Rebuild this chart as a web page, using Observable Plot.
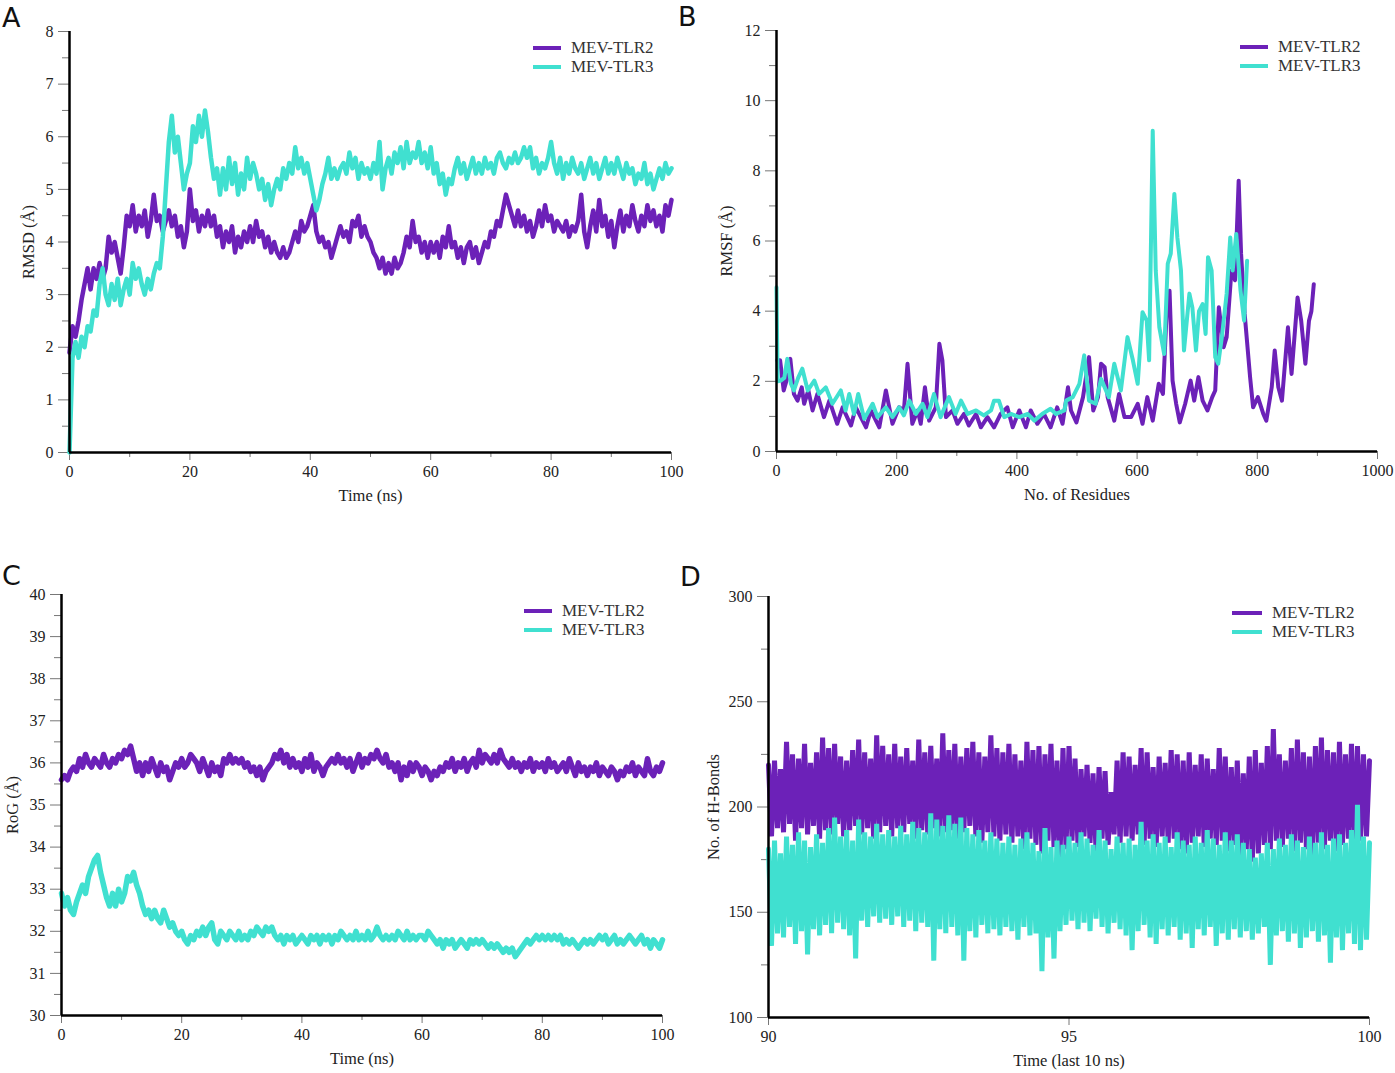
<!DOCTYPE html>
<html>
<head>
<meta charset="utf-8">
<script src="https://cdn.jsdelivr.net/npm/d3@7"></script>
<script src="https://cdn.jsdelivr.net/npm/@observablehq/plot@0.6"></script>
<style>
  html, body { margin: 0; padding: 0; background: #fff; }
  #page { position: relative; width: 1395px; height: 1073px; overflow: hidden; background: #fff; }
  .panel { position: absolute; }
  .panel svg text { font-family: "Liberation Serif", "Times New Roman", serif !important; }
  #letters { position: absolute; left: 0; top: 0; }
  .legend { position: absolute; font-family: "Liberation Serif", serif; font-size: 17px; color: #333; }
  .legend .row { display: flex; align-items: center; height: 19px; line-height: 19px; }
  .legend .sw { display: inline-block; height: 4px; margin-right: 10px; }
</style>
</head>
<body>
<div id="page"></div>
<script>
// ---------- series names & colours ----------
const seriesNames = ["MEV-TLR2", "MEV-TLR3"];
const seriesColors = ["#6c21b8", "#40e0d0"];

// ---------- A: RMSD (Å) vs Time (ns), sampled every 0.5 ns ----------
const rmsdTime = d3.range(201).map(i => i * 0.5);
const rmsdTLR2 = [
  1.9, 2.4, 2.2, 2.5, 2.9, 3.2, 3.5, 3.1, 3.5, 3.3,
  3.6, 3.3, 3.5, 4.1, 3.8, 4.0, 3.7, 3.4, 3.9, 4.5,
  4.3, 4.7, 4.2, 4.5, 4.3, 4.6, 4.1, 4.4, 4.9, 4.4,
  4.5, 4.2, 4.4, 4.6, 4.3, 4.5, 4.1, 4.3, 3.9, 4.2,
  5.0, 4.4, 4.6, 4.2, 4.5, 4.3, 4.6, 4.3, 4.5, 4.1,
  4.3, 3.9, 4.2, 4.0, 4.3, 3.8, 4.1, 3.9, 4.2, 4.0,
  4.3, 4.0, 4.4, 4.1, 4.2, 3.9, 4.1, 3.8, 4.0, 3.8,
  3.7, 3.9, 3.7, 3.8, 4.0, 4.2, 4.0, 4.4, 4.2, 4.3,
  4.5, 4.7, 4.2, 4.0, 4.1, 3.9, 4.0, 3.7, 3.9, 4.1,
  4.3, 4.1, 4.2, 4.0, 4.4, 4.3, 4.5, 4.1, 4.3, 4.1,
  4.0, 3.8, 3.7, 3.5, 3.7, 3.4, 3.6, 3.4, 3.7, 3.5,
  3.6, 3.8, 4.1, 3.9, 4.4, 4.0, 4.1, 3.8, 4.0, 3.7,
  4.0, 3.8, 4.0, 3.7, 4.1, 3.9, 4.3, 3.9, 4.0, 3.7,
  3.9, 3.6, 3.9, 4.0, 3.7, 3.9, 3.6, 3.8, 4.0, 3.9,
  4.2, 4.1, 4.4, 4.3, 4.6, 4.9, 4.7, 4.5, 4.3, 4.6,
  4.3, 4.5, 4.2, 4.4, 4.1, 4.3, 4.6, 4.3, 4.7, 4.4,
  4.5, 4.2, 4.4, 4.3, 4.2, 4.4, 4.1, 4.3, 4.2, 4.4,
  4.9, 4.2, 3.9, 4.3, 4.6, 4.2, 4.8, 4.3, 4.5, 4.1,
  4.4, 3.9, 4.3, 4.6, 4.2, 4.5, 4.3, 4.7, 4.4, 4.2,
  4.5, 4.3, 4.7, 4.4, 4.6, 4.3, 4.5, 4.2, 4.7, 4.5,
  4.8
];
const rmsdTLR3 = [
  0.0, 1.8, 2.1, 1.8, 2.2, 2.0, 2.4, 2.3, 2.7, 2.6,
  3.2, 3.5, 3.0, 2.8, 3.2, 2.9, 3.3, 2.8, 3.1, 3.3,
  3.0, 3.6, 3.3, 3.5, 3.2, 3.0, 3.3, 3.1, 3.4, 3.6,
  3.5, 4.1, 5.0, 5.9, 6.4, 5.7, 6.0, 5.5, 5.0, 5.3,
  5.5, 6.2, 5.9, 6.4, 6.0, 6.5, 6.1, 5.6, 5.2, 5.4,
  4.9, 5.4, 5.0, 5.6, 5.1, 5.5, 4.9, 5.3, 5.0, 5.6,
  5.2, 5.5, 5.3, 5.0, 5.2, 4.8, 5.1, 4.7, 5.0, 5.2,
  5.0, 5.4, 5.2, 5.5, 5.3, 5.8, 5.4, 5.6, 5.3, 5.5,
  5.2, 4.9, 4.6, 4.8, 5.1, 5.3, 5.6, 5.2, 5.4, 5.2,
  5.4, 5.5, 5.3, 5.7, 5.4, 5.6, 5.2, 5.5, 5.3, 5.4,
  5.2, 5.5, 5.3, 5.9, 5.0, 5.4, 5.6, 5.3, 5.7, 5.5,
  5.8, 5.4, 5.9, 5.5, 5.7, 5.6, 5.9, 5.5, 5.7, 5.4,
  5.8, 5.3, 5.5, 5.1, 5.3, 4.9, 5.2, 5.1, 5.4, 5.6,
  5.3, 5.5, 5.2, 5.4, 5.6, 5.3, 5.5, 5.3, 5.6, 5.4,
  5.5, 5.3, 5.6, 5.7, 5.5, 5.4, 5.6, 5.5, 5.7, 5.5,
  5.6, 5.8, 5.6, 5.8, 5.4, 5.6, 5.3, 5.5, 5.4, 5.6,
  5.9, 5.5, 5.3, 5.6, 5.2, 5.5, 5.3, 5.6, 5.4, 5.3,
  5.5, 5.2, 5.4, 5.6, 5.3, 5.5, 5.2, 5.4, 5.6, 5.3,
  5.5, 5.3, 5.6, 5.4, 5.2, 5.5, 5.3, 5.4, 5.1, 5.3,
  5.2, 5.5, 5.1, 5.3, 5.0, 5.2, 5.4, 5.2, 5.5, 5.3,
  5.4
];

// ---------- B: RMSF (Å) vs residue number ----------
const rmsfResTLR2 = [1, 6, 12, 18, 23, 29, 35, 42, 46, 53, 60, 68, 79, 88, 101, 110, 124, 132, 149, 157,
  171, 182, 193, 204, 212, 218, 226, 235, 240, 247, 254, 265, 271, 276, 282, 293, 301, 312, 320, 332,
  340, 351, 362, 373, 384, 393, 404, 415, 423, 434, 445, 456, 467, 476, 485, 490, 499, 510, 520, 527,
  535, 540, 546, 551, 562, 570, 579, 590, 601, 609, 617, 626, 636, 643, 649, 654, 659, 665, 671, 680,
  689, 695, 702, 709, 717, 725, 730, 736, 744, 749, 757, 763, 769, 773, 779, 788, 793, 801, 810, 815,
  824, 829, 835, 841, 851, 857, 867, 873, 880, 886, 890, 894];
const rmsfTLR2 = [2.6, 2.6, 1.74, 2.1, 2.64, 1.64, 1.45, 1.83, 1.36, 1.74, 1.17, 1.64, 0.98, 1.45, 0.79, 1.26, 0.74, 1.26, 0.69, 1.17,
  0.69, 1.74, 0.79, 1.26, 1.17, 2.5, 0.79, 1.17, 0.79, 1.83, 0.88, 1.26, 3.07, 2.6, 0.98, 1.17, 0.79, 1.07, 0.74, 1.07,
  0.69, 0.98, 0.69, 1.07, 1.26, 0.69, 1.17, 0.69, 1.17, 0.79, 1.07, 0.69, 1.26, 0.79, 1.83, 1.17, 0.83, 1.55, 2.69, 1.17,
  1.55, 2.5, 2.4, 1.55, 0.88, 1.64, 0.98, 0.98, 1.36, 0.79, 1.55, 0.88, 1.93, 1.64, 3.92, 4.58, 2.02, 1.36, 0.83, 1.36,
  2.02, 1.45, 2.12, 1.45, 1.17, 1.55, 1.74, 4.11, 2.97, 3.26, 5.16, 4.88, 7.72, 5.64, 3.92, 2.12, 1.26, 1.55, 1.07, 0.88,
  1.83, 2.88, 1.83, 1.45, 3.54, 2.21, 4.39, 3.73, 2.5, 3.73, 4.0, 4.77];
const rmsfResTLR3 = [0, 1, 2, 7, 13, 18, 24, 29, 36, 43, 52, 63, 71, 82, 93, 107, 115, 121, 129, 136,
  146, 160, 168, 182, 193, 204, 212, 221, 232, 243, 251, 262, 273, 287, 298, 307, 318, 332, 345, 357,
  362, 370, 379, 390, 404, 418, 429, 442, 456, 465, 479, 482, 493, 504, 512, 520, 531, 540, 553, 562,
  573, 584, 593, 601, 609, 616, 620, 626, 631, 637, 645, 651, 656, 662, 667, 673, 678, 687, 692, 698,
  703, 709, 714, 718, 724, 730, 735, 741, 749, 755, 759, 765, 772, 778, 783];
const rmsfTLR3 = [4.68, 3.2, 2.0, 2.02, 2.1, 2.64, 1.93, 1.74, 2.1, 2.36, 1.74, 2.02, 1.64, 1.83, 1.36, 1.74, 1.17, 1.64, 1.07, 1.64,
  0.93, 1.36, 0.98, 1.26, 0.98, 1.26, 1.03, 1.45, 1.07, 1.36, 0.98, 1.64, 0.98, 1.55, 1.07, 1.45, 1.07, 1.17, 1.03, 1.17,
  1.45, 1.45, 0.98, 1.07, 0.98, 1.07, 0.88, 1.07, 1.22, 1.07, 1.17, 1.45, 1.55, 1.93, 2.74, 1.45, 1.36, 2.07, 1.55, 2.5,
  1.74, 3.26, 2.6, 1.93, 3.97, 3.73, 2.6, 9.14, 5.16, 3.54, 2.78, 5.35, 5.64, 7.34, 6.1, 5.16, 2.88, 4.5, 4.1, 2.88,
  4.0, 4.2, 3.35, 5.54, 5.16, 2.69, 2.5, 3.26, 4.5, 6.1, 5.16, 6.2, 4.6, 3.73, 5.44];

// ---------- C: RoG (Å) vs Time (ns), sampled every 0.5 ns ----------
const rogTime = d3.range(201).map(i => i * 0.5);
const rogTLR2 = [
  35.6, 35.7, 35.6, 35.8, 35.9, 35.8, 36.1, 35.9, 36.2, 36.0,
  35.9, 36.1, 36.0, 35.9, 36.2, 36.0, 35.9, 36.1, 36.0, 36.2,
  36.1, 36.3, 36.2, 36.4, 36.1, 35.8, 36.0, 35.7, 36.0, 35.8,
  36.1, 35.9, 35.7, 36.0, 35.8, 35.9, 35.6, 35.8, 36.0, 35.9,
  36.1, 35.9, 36.0, 36.2, 36.1, 36.0, 35.8, 36.1, 35.9, 35.7,
  36.0, 35.8, 35.9, 35.7, 36.1, 36.0, 36.2, 36.0, 36.1, 36.0,
  36.1, 35.9, 36.0, 35.8, 35.9, 35.7, 35.9, 35.6, 35.8, 35.9,
  36.0, 36.2, 36.1, 36.3, 36.0, 36.2, 35.9, 36.1, 35.9, 36.0,
  35.8, 36.1, 35.9, 36.2, 35.8, 36.0, 35.9, 35.7, 35.9, 36.0,
  36.1, 36.0, 36.2, 36.0, 36.1, 35.9, 36.1, 35.8, 36.0, 36.2,
  35.9, 36.1, 36.0, 36.2, 36.1, 36.3, 36.1, 36.0, 36.2, 35.9,
  36.0, 35.8, 36.0, 35.6, 35.9, 35.7, 36.0, 35.8, 36.0, 35.9,
  35.7, 35.9, 35.8, 35.6, 35.8, 35.7, 35.9, 35.8, 36.0, 35.9,
  36.1, 35.8, 36.0, 35.9, 36.1, 35.8, 36.0, 36.1, 35.9, 36.3,
  36.0, 36.2, 36.1, 36.0, 36.2, 36.0, 36.3, 36.1, 36.0, 35.9,
  36.1, 35.9, 36.0, 35.8, 36.0, 35.9, 36.1, 35.8, 36.0, 35.9,
  36.0, 35.8, 36.1, 35.9, 36.0, 35.8, 35.9, 36.0, 35.8, 36.1,
  35.9, 35.7, 36.0, 35.8, 35.9, 35.7, 35.9, 35.8, 36.0, 35.7,
  35.9, 35.8, 35.7, 35.9, 35.8, 35.6, 35.8, 35.7, 35.9, 35.8,
  36.0, 35.7, 35.9, 35.8, 35.7, 36.1, 35.8, 35.7, 35.9, 35.8,
  36.0
];
const rogTLR3 = [
  32.9, 32.6, 32.8, 32.5, 32.4, 32.7, 32.9, 33.1, 32.9, 33.3,
  33.5, 33.7, 33.8, 33.4, 33.1, 32.8, 32.6, 32.9, 32.6, 33.0,
  32.7, 32.9, 33.3, 33.2, 33.4, 33.1, 32.9, 32.6, 32.4, 32.5,
  32.3, 32.5, 32.3, 32.2, 32.5, 32.3, 32.1, 32.2, 32.0, 31.9,
  32.0, 31.8, 31.7, 31.9, 31.8, 32.0, 31.9, 32.1, 31.9, 32.1,
  32.2, 31.8, 31.7, 32.0, 31.9, 31.8, 32.0, 31.9, 31.8, 32.0,
  31.8, 31.9, 31.8, 32.0, 31.9, 32.1, 32.0, 31.9, 32.1, 32.0,
  32.1, 31.9, 31.8, 31.9, 31.7, 31.9, 31.8, 31.9, 31.7, 31.8,
  31.9, 31.8, 31.7, 31.9, 31.8, 31.9, 31.7, 31.9, 31.8, 31.9,
  31.7, 31.9, 31.8, 32.0, 31.9, 31.8, 31.9, 31.8, 32.0, 31.8,
  31.9, 31.8, 32.0, 31.8, 31.9, 32.1, 31.9, 31.8, 31.9, 31.8,
  31.9, 31.8, 32.0, 31.9, 31.8, 32.0, 31.8, 31.9, 31.8, 31.9,
  31.9, 31.8, 32.0, 31.9, 31.8, 31.7, 31.8, 31.6, 31.8, 31.7,
  31.8, 31.6, 31.7, 31.8, 31.7, 31.6, 31.8, 31.7, 31.8, 31.7,
  31.8, 31.7, 31.6, 31.7, 31.6, 31.7, 31.6, 31.5, 31.6, 31.5,
  31.6, 31.4, 31.5, 31.6, 31.7, 31.8, 31.7, 31.8, 31.9, 31.8,
  31.9, 31.8, 31.9, 31.8, 31.9, 31.8, 31.9, 31.7, 31.8, 31.7,
  31.8, 31.7, 31.6, 31.7, 31.8, 31.7, 31.8, 31.7, 31.8, 31.9,
  31.8, 31.9, 31.7, 31.8, 31.9, 31.7, 31.8, 31.7, 31.8, 31.9,
  31.8, 31.7, 31.8, 31.9, 31.7, 31.8, 31.6, 31.8, 31.7, 31.6,
  31.8
];

// ---------- D: No. of H-bonds, last 10 ns ----------
// upper excursions sampled at 90.0, 90.1, ... 100.0 ns; lower excursions at 90.05, 90.15, ... 99.95 ns
const hbondHiTLR2 = [
  220, 222, 218, 231, 225, 223, 230, 221, 226, 233,
  228, 230, 224, 222, 227, 232, 226, 223, 234, 229,
  225, 230, 224, 228, 222, 232, 226, 229, 223, 235,
  227, 230, 224, 228, 231, 226, 224, 234, 228, 226,
  230, 225, 222, 231, 227, 229, 225, 230, 222, 228,
  229, 223, 218, 220, 216, 219, 217, 207, 222, 226,
  224, 220, 228, 226, 219, 224, 221, 227, 225, 222,
  226, 220, 225, 223, 218, 228, 224, 219, 222, 216,
  224, 227, 221, 229, 237, 225, 222, 228, 232, 226,
  224, 229, 233, 227, 226, 231, 225, 230, 229, 225,
  222
];
const hbondLoTLR2 = [
  186, 190, 188, 192, 184, 190, 187, 191, 185, 189,
  187, 192, 186, 189, 191, 187, 190, 185, 188, 191,
  186, 190, 188, 192, 185, 189, 187, 190, 186, 188,
  189, 185, 188, 191, 186, 183, 188, 186, 184, 187,
  183, 186, 180, 185, 182, 178, 184, 181, 176, 180,
  184, 181, 186, 183, 179, 185, 182, 187, 183, 186,
  184, 187, 182, 185, 181, 186, 183, 185, 180, 178,
  183, 186, 181, 185, 182, 184, 179, 182, 177, 180,
  174, 178, 182, 180, 184, 181, 185, 179, 183, 180,
  177, 183, 180, 184, 179, 182, 185, 181, 184, 186
];
const hbondHiTLR3 = [
  180, 184, 178, 186, 182, 188, 184, 181, 187, 183,
  190, 195, 186, 189, 184, 194, 188, 186, 192, 187,
  189, 186, 191, 187, 193, 190, 188, 197, 194, 191,
  196, 192, 195, 190, 187, 189, 184, 188, 185, 183,
  186, 182, 185, 188, 183, 179, 190, 181, 184, 182,
  186, 183, 188, 185, 182, 189, 184, 180, 186, 183,
  185, 182, 193, 184, 187, 183, 186, 181, 188, 184,
  182, 186, 183, 189, 185, 182, 188, 184, 187, 183,
  180, 176, 178, 183, 180, 185, 182, 187, 184, 181,
  186, 183, 188, 182, 185, 187, 183, 189, 201, 186,
  183
];
const hbondLoTLR3 = [
  134, 140, 138, 143, 135, 141, 130, 142, 139, 144,
  140, 145, 142, 139, 128, 146, 143, 148, 145, 147,
  144, 148, 143, 146, 141, 145, 143, 127, 142, 140,
  143, 139, 127, 141, 138, 144, 140, 142, 139, 143,
  141, 137, 143, 139, 140, 122, 138, 128, 141, 144,
  146, 142, 145, 141, 147, 143, 140, 145, 142, 139,
  132, 141, 144, 138, 135, 142, 139, 143, 137, 140,
  133, 142, 139, 143, 134, 140, 137, 142, 138, 141,
  137, 140, 143, 125, 139, 141, 136, 140, 133, 138,
  141, 136, 139, 126, 138, 132, 140, 135, 132, 137
];

// ---------- axis ticks ----------
const timeMajor = [0, 20, 40, 60, 80, 100];
const timeMinor = [10, 30, 50, 70, 90];
const rmsdMajor = [0, 1, 2, 3, 4, 5, 6, 7, 8];
const rmsdMinor = [0.5, 1.5, 2.5, 3.5, 4.5, 5.5, 6.5, 7.5];
const resMajor = [0, 200, 400, 600, 800, 1000];
const resMinor = [100, 300, 500, 700, 900];
const rmsfMajor = [0, 2, 4, 6, 8, 10, 12];
const rmsfMinor = [1, 3, 5, 7, 9, 11];
const rogMajor = [30, 31, 32, 33, 34, 35, 36, 37, 38, 39, 40];
const rogMinor = [30.5, 31.5, 32.5, 33.5, 34.5, 35.5, 36.5, 37.5, 38.5, 39.5];
const hbTimeMajor = [90, 95, 100];
const hbMajor = [100, 150, 200, 250, 300];
const hbMinor = [125, 175, 225, 275];
const panelLetters = ["A", "B", "C", "D"];

// ---------- build tables ----------
function table(xs, ys, name) { return ys.map((v, i) => ({x: xs[i], y: v, s: name})); }
function zigzag(hi, lo, name) {
  const out = [];
  hi.forEach((v, k) => {
    out.push({x: 90 + k * 0.1, y: v, s: name});
    if (k < lo.length) out.push({x: 90.05 + k * 0.1, y: lo[k], s: name});
  });
  return out;
}

const panels = [
  {left: 0, top: 0, width: 697, height: 520, mt: 31, mr: 26, mb: 68, ml: 69,
   xDomain: [0, 100], yDomain: [0, 8], xMajor: timeMajor, xMinor: timeMinor, yMajor: rmsdMajor, yMinor: rmsdMinor,
   xTitle: "Time (ns)", yTitle: "RMSD (Å)", yTitleDx: -41, sw: 4.5, join: "round",
   data: [table(rmsdTime, rmsdTLR2, seriesNames[0]), table(rmsdTime, rmsdTLR3, seriesNames[1])],
   legend: {left: 533, top: 38, w: 28}, letterPos: [2, 27]},
  {left: 700, top: 0, width: 695, height: 520, mt: 30, mr: 18, mb: 69, ml: 76,
   xDomain: [0, 1000], yDomain: [0, 12], xMajor: resMajor, xMinor: resMinor, yMajor: rmsfMajor, yMinor: rmsfMinor,
   xTitle: "No. of Residues", yTitle: "RMSF (Å)", yTitleDx: -50, sw: 4, join: "round",
   data: [table(rmsfResTLR2, rmsfTLR2, seriesNames[0]), table(rmsfResTLR3, rmsfTLR3, seriesNames[1])],
   legend: {left: 1240, top: 37, w: 28}, letterPos: [678, 26]},
  {left: 0, top: 540, width: 697, height: 533, mt: 54, mr: 35, mb: 58, ml: 61,
   xDomain: [0, 100], yDomain: [30, 40], xMajor: timeMajor, xMinor: timeMinor, yMajor: rogMajor, yMinor: rogMinor,
   xTitle: "Time (ns)", yTitle: "RoG (Å)", yTitleDx: -49, sw: 5.5, join: "round",
   data: [table(rogTime, rogTLR2, seriesNames[0]), table(rogTime, rogTLR3, seriesNames[1])],
   legend: {left: 524, top: 601, w: 28}, letterPos: [2, 585]},
  {left: 700, top: 540, width: 695, height: 533, mt: 56, mr: 26, mb: 56, ml: 68,
   xDomain: [90, 100], yDomain: [100, 300], xMajor: hbTimeMajor, xMinor: [], yMajor: hbMajor, yMinor: hbMinor,
   xTitle: "Time (last 10 ns)", yTitle: "No. of H-Bonds", yTitleDx: -55, sw: 5, join: "bevel",
   data: [zigzag(hbondHiTLR2, hbondLoTLR2, seriesNames[0]), zigzag(hbondHiTLR3, hbondLoTLR3, seriesNames[1])],
   legend: {left: 1232, top: 603, w: 30}, letterPos: [680, 586]}
];

const page = document.getElementById("page");
const serif = "'Liberation Serif', 'Times New Roman', serif";
const fmt = d => String(d);

panels.forEach((p, pi) => {
  const marks = [
    Plot.axisY(p.yMinor, {tickSize: 7, tickFormat: () => "", stroke: "#777", label: null}),
    Plot.axisY(p.yMajor, {tickSize: 11, tickPadding: 5, stroke: "#777", label: null, tickFormat: fmt, fontSize: 16, fontFamily: serif, fill: "#222"}),
    Plot.axisX(p.xMinor, {tickSize: 5, tickFormat: () => "", stroke: "#777", label: null}),
    Plot.axisX(p.xMajor, {tickSize: 8, tickPadding: 5, stroke: "#777", label: null, tickFormat: fmt, fontSize: 16, fontFamily: serif, fill: "#222"}),
    ...p.data.map((d, i) => Plot.line(d, {x: "x", y: "y", stroke: seriesColors[i], strokeWidth: p.sw, strokeLinejoin: p.join})),
    Plot.ruleX([p.xDomain[0]], {stroke: "#000", strokeWidth: 2.5}),
    Plot.ruleY([p.yDomain[0]], {stroke: "#000", strokeWidth: 2.5}),
    Plot.text([p.yTitle], {text: d => d, frameAnchor: "left", dx: p.yTitleDx, rotate: -90, fontSize: 16.5, fontFamily: serif, textAnchor: "middle", lineAnchor: "middle", fill: "#222"}),
    Plot.text([p.xTitle], {text: d => d, frameAnchor: "bottom", dy: 43, fontSize: 16.5, fontFamily: serif, textAnchor: "middle", lineAnchor: "middle", fill: "#222"})
  ];
  const svg = Plot.plot({
    width: p.width, height: p.height,
    marginTop: p.mt, marginRight: p.mr, marginBottom: p.mb, marginLeft: p.ml,
    x: {domain: p.xDomain},
    y: {domain: p.yDomain},
    style: {fontFamily: serif, fontSize: "16px", color: "#222", background: "transparent", overflow: "visible"},
    marks
  });
  const wrap = document.createElement("div");
  wrap.className = "panel";
  wrap.style.left = p.left + "px";
  wrap.style.top = p.top + "px";
  wrap.appendChild(svg);
  page.appendChild(wrap);

  const lg = document.createElement("div");
  lg.className = "legend";
  lg.style.left = p.legend.left + "px";
  lg.style.top = p.legend.top + "px";
  seriesNames.forEach((name, i) => {
    const row = document.createElement("div");
    row.className = "row";
    const sw = document.createElement("span");
    sw.className = "sw";
    sw.style.width = p.legend.w + "px";
    sw.style.background = seriesColors[i];
    const tx = document.createElement("span");
    tx.textContent = name;
    row.appendChild(sw);
    row.appendChild(tx);
    lg.appendChild(row);
  });
  page.appendChild(lg);
});

// panel letters in an overlay svg
const ns = "http://www.w3.org/2000/svg";
const overlay = document.createElementNS(ns, "svg");
overlay.setAttribute("id", "letters");
overlay.setAttribute("width", 1395);
overlay.setAttribute("height", 1073);
overlay.style.pointerEvents = "none";
panels.forEach((p, pi) => {
  const t = document.createElementNS(ns, "text");
  t.setAttribute("x", p.letterPos[0]);
  t.setAttribute("y", p.letterPos[1]);
  t.setAttribute("font-family", "'DejaVu Sans', sans-serif");
  t.setAttribute("font-size", "27");
  t.setAttribute("fill", "#111");
  t.textContent = panelLetters[pi];
  overlay.appendChild(t);
});
page.appendChild(overlay);
</script>
</body>
</html>
